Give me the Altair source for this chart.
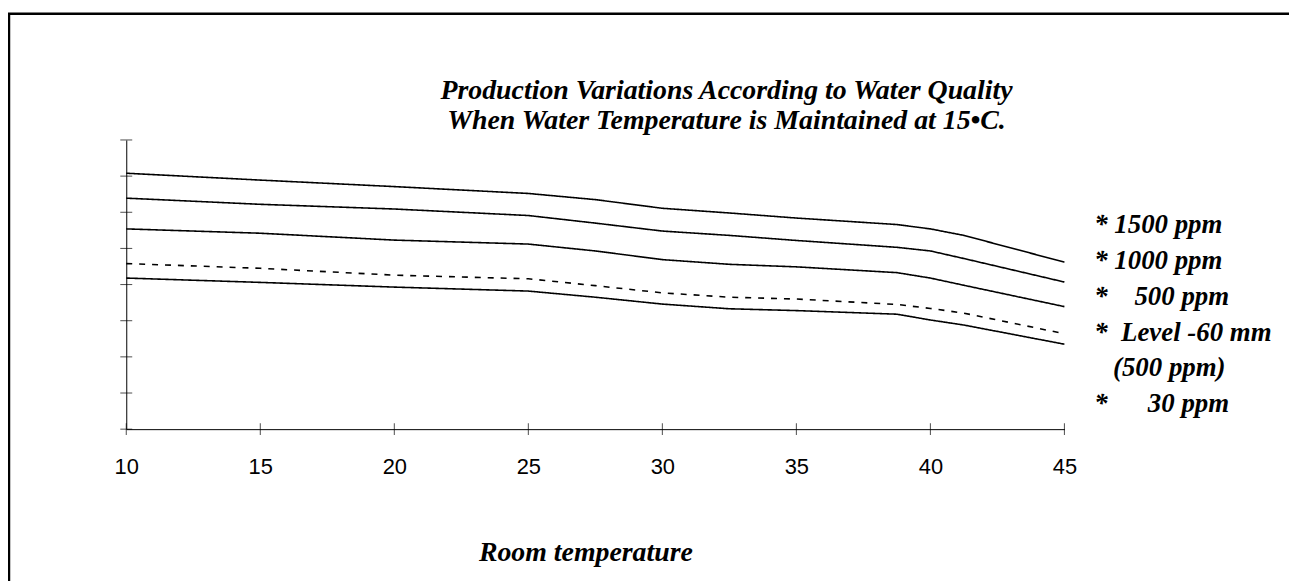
import altair as alt
import pandas as pd

temps = [10, 15, 20, 25, 27.5, 30, 32.5, 35, 38.75, 40, 41.25, 45]
ppm1500 = [7.08, 6.89, 6.71, 6.52, 6.35, 6.11, 5.98, 5.84, 5.66, 5.54, 5.36, 4.62]
ppm1000 = [6.39, 6.22, 6.09, 5.91, 5.70, 5.48, 5.36, 5.22, 5.03, 4.93, 4.72, 4.07]
ppm500 = [5.54, 5.42, 5.23, 5.12, 4.93, 4.69, 4.56, 4.49, 4.33, 4.18, 3.98, 3.39]
level60 = [4.58, 4.45, 4.26, 4.16, 3.97, 3.77, 3.65, 3.60, 3.45, 3.34, 3.21, 2.64]
ppm30 = [4.18, 4.06, 3.93, 3.82, 3.65, 3.46, 3.33, 3.28, 3.18, 3.02, 2.88, 2.35]

series_names = ["1500 ppm", "1000 ppm", "500 ppm", "Level -60 mm (500 ppm)", "30 ppm"]
series_values = [ppm1500, ppm1000, ppm500, level60, ppm30]

SP = "\u2002"
ZW = "\u200b"
legend_lines = [
    "* 1500 ppm",
    "* 1000 ppm",
    "*" + SP * 2 + "500 ppm",
    "*" + SP + "Level -60 mm",
    ZW + SP + "\u2009(500 ppm)",
    "*" + SP * 3 + "30 ppm",
]

x_ticks = [10, 15, 20, 25, 30, 35, 40, 45]
y_ticks = [0, 1, 2, 3, 4, 5, 6, 7, 8]

title_lines = ["Production Variations According to Water Quality",
               "When Water Temperature is Maintained at 15\u2022C."]

rows = []
for name, vals in zip(series_names, series_values):
    for t, v in zip(temps, vals):
        rows.append({"temp": t, "value": v, "series": name})
df = pd.DataFrame(rows)

SERIF = "Liberation Serif"
SANS = "Liberation Sans"

xscale = alt.Scale(domain=[10, 45], nice=False, zero=False)
yscale = alt.Scale(domain=[0, 8], nice=False, zero=False)

lines = alt.Chart(df).mark_line(color="black").encode(
    x=alt.X("temp:Q", scale=xscale,
            axis=alt.Axis(values=x_ticks, ticks=False, grid=False, domainColor="black",
                          labelFont=SANS, labelFontSize=22, labelColor="black",
                          labelFlush=False, labelPadding=28, title="Room temperature",
                          titleFont=SERIF, titleFontSize=28, titleFontStyle="italic",
                          titleFontWeight="bold", titleColor="black", titlePadding=61,
                          titleX=462)),
    y=alt.Y("value:Q", scale=yscale,
            axis=alt.Axis(values=y_ticks, labels=False, ticks=False, grid=False,
                          domainColor="black", title=None)),
    detail="series:N",
    strokeDash=alt.StrokeDash("series:N", scale=alt.Scale(domain=series_names,
                              range=[[1, 0], [1, 0], [1, 0], [6, 7], [1, 0]]), legend=None),
    strokeWidth=alt.StrokeWidth("series:N", scale=alt.Scale(domain=series_names,
                                range=[1.6, 1.6, 1.6, 3.0, 1.6]), legend=None),
)

yt = alt.Chart(pd.DataFrame({"t": y_ticks})).mark_tick(
    orient="horizontal", size=12, thickness=1, color="black").encode(
    x=alt.X(datum=10, scale=xscale),
    y=alt.Y("t:Q", scale=yscale))

xt = alt.Chart(pd.DataFrame({"t": x_ticks})).mark_tick(
    orient="vertical", size=12, thickness=1, color="black").encode(
    x=alt.X("t:Q", scale=xscale),
    y=alt.Y(datum=0, scale=yscale))

plot = alt.layer(lines, yt, xt)

legend = alt.Chart(pd.DataFrame({"row": list(range(len(legend_lines))), "label": legend_lines})).mark_text(
    align="left", baseline="middle", font=SERIF, fontSize=27, fontStyle="italic",
    fontWeight="bold", color="black").encode(
    x=alt.value(974),
    y=alt.Y("row:O", scale=alt.Scale(range=[86, 266], padding=0), axis=None),
    text="label:N")

border = alt.Chart(pd.DataFrame({"a": [0]})).mark_rect(
    fillOpacity=0, stroke="black", strokeWidth=2.5).encode(
    x=alt.value(-118), x2=alt.value(1300), y=alt.value(-127), y2=alt.value(480))

chart = alt.layer(border, plot, legend).resolve_scale(y="independent").properties(
    width=944, height=291,
    autosize="none",
    padding={"left": 119, "top": 131, "right": 226, "bottom": 151},
    title=alt.Title(text=title_lines, font=SERIF, fontSize=28, fontStyle="italic",
                    fontWeight="bold", color="black", anchor="middle", dx=132,
                    dy=131, lineHeight=30, offset=8, frame="group"),
).configure_view(stroke=None)

chart.save("out.html", embed_options={"renderer": "svg", "actions": False})
